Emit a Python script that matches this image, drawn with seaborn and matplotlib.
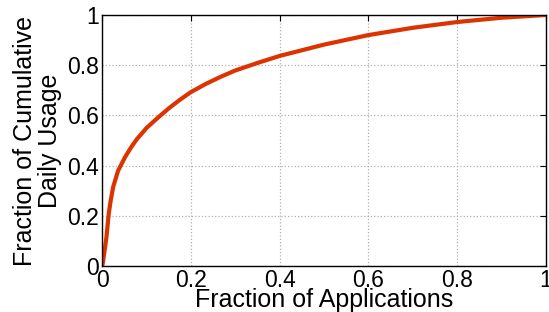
import pandas as pd
import seaborn as sns
import matplotlib.pyplot as plt

# cumulative usage curve
frac_apps = [0, 0.002, 0.0097, 0.015, 0.0195, 0.025, 0.036, 0.052, 0.066, 0.078,
             0.1, 0.125, 0.15, 0.175, 0.2, 0.233, 0.266, 0.3, 0.35, 0.4, 0.5,
             0.6, 0.7, 0.8, 0.9, 1.0]
frac_usage = [0, 0.017, 0.114, 0.21, 0.263, 0.316, 0.38, 0.435, 0.475, 0.505,
              0.55, 0.59, 0.628, 0.662, 0.693, 0.725, 0.753, 0.779, 0.809, 0.837,
              0.882, 0.92, 0.949, 0.972, 0.989, 1.0]
ticks = [0, 0.2, 0.4, 0.6, 0.8, 1]
tick_labels = ["0", "0.2", "0.4", "0.6", "0.8", "1"]

sns.set_style("white")
plt.rcParams["font.family"] = ["Liberation Sans", "DejaVu Sans"]
plt.rcParams["text.color"] = "black"
plt.rcParams["axes.labelcolor"] = "black"

df = pd.DataFrame({"apps": frac_apps, "usage": frac_usage})

fig, ax = plt.subplots(figsize=(5.49, 3.12), dpi=100)
fig.subplots_adjust(left=0.186, right=0.9945, top=0.952, bottom=0.147)

sns.lineplot(data=df, x="apps", y="usage", ax=ax, color="#dd3300", linewidth=3)

ax.set_xlim(0, 1)
ax.set_ylim(0, 1)
ax.set_xticks(ticks)
ax.set_xticklabels(tick_labels)
ax.set_yticks(ticks)
ax.set_yticklabels(tick_labels)
ax.grid(True, linestyle=":", color="#b0b0b0", linewidth=0.9)
ax.tick_params(direction="in", top=True, right=True, length=4, labelsize=16.5, pad=2,
               color="black", labelcolor="black")
for s in ax.spines.values():
    s.set_color("black")
    s.set_linewidth(1.0)

ax.set_xlabel("Fraction of Applications", fontsize=18, labelpad=-2.5, color="black")
ax.set_ylabel("Fraction of Cumulative\nDaily Usage", fontsize=18, labelpad=4,
              linespacing=1.05, color="black")

fig.savefig("out.png", dpi=100)
